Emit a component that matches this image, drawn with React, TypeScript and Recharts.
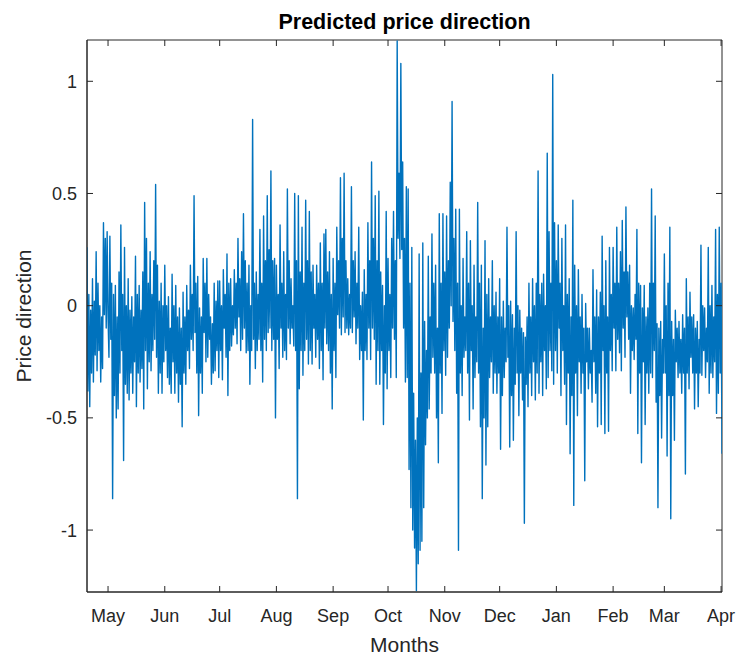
import React from 'react';
import { LineChart, Line, XAxis, YAxis, ReferenceArea } from 'recharts';

// x = days since 1 May (half-day steps inside each month block)
const monthTicks = [0, 31, 61, 92, 123, 153, 184, 214, 245, 276, 304, 335];
const monthLabels = ['May', 'Jun', 'Jul', 'Aug', 'Sep', 'Oct', 'Nov', 'Dec', 'Jan', 'Feb', 'Mar', 'Apr'];
const yTicks = [-1, -0.5, 0, 0.5, 1];
const yTickLabels = ['-1', '-0.5', '0', '0.5', '1'];

const lateApr = [0.26, -0.38, 0.05, -0.45, -0.02, -0.3, 0.12, -0.34, 0.02, -0.22, 0.24, -0.29, 0.1, -0.2, 0.0, -0.34, -0.05, -0.28, 0.37, -0.04, 0.3, -0.1, 0.33];
const may = [-0.05, -0.23, 0.31, -0.15, 0.1, -0.86, 0.05, -0.4, 0.09, -0.5, -0.05, -0.46, 0.15, -0.3, 0.36, -0.2, 0.05, -0.69, 0.26, -0.35, 0.0, -0.39, 0.12, -0.42, -0.02, -0.3, 0.04, -0.39, -0.05, -0.25, 0.22, -0.45, 0.05, -0.3, 0.09, -0.34, -0.02, -0.28, 0.15, -0.46, 0.46, -0.2, 0.3, -0.37, 0.1, -0.25, 0.24, -0.29, 0.05, -0.2, 0.2, -0.15, 0.54, -0.23, 0.18, -0.39, 0.02, -0.3, 0.1, -0.39, 0.0, -0.25];
const jun = [0.18, -0.2, 0.0, -0.32, 0.04, -0.35, -0.1, -0.39, 0.14, -0.25, 0.0, -0.39, 0.09, -0.3, -0.05, -0.43, -0.01, -0.35, -0.1, -0.54, 0.06, -0.3, -0.05, -0.35, 0.09, -0.2, -0.02, -0.28, 0.18, -0.15, 0.05, -0.2, 0.49, -0.12, 0.1, -0.3, 0.13, -0.49, -0.01, -0.3, -0.05, -0.39, 0.21, -0.12, 0.1, -0.25, 0.21, -0.23, 0.05, -0.15, -0.05, -0.35, -0.08, -0.3, 0.1, -0.29, 0.02, -0.2, 0.11, -0.32];
const jul = [0.11, -0.2, 0.0, -0.33, 0.16, -0.1, 0.05, -0.23, 0.23, -0.4, 0.1, -0.2, 0.12, -0.18, 0.0, -0.13, 0.16, -0.1, 0.1, -0.17, 0.3, -0.05, 0.12, -0.2, 0.24, -0.15, 0.41, -0.1, 0.2, -0.21, 0.1, -0.2, 0.18, -0.35, 0.0, -0.2, 0.83, -0.15, 0.1, -0.28, 0.15, -0.2, 0.05, -0.15, 0.34, -0.2, 0.1, -0.34, 0.4, -0.15, 0.2, -0.2, 0.49, -0.12, 0.25, -0.1, 0.6, -0.2, 0.2, -0.15, 0.21, -0.5];
const aug = [0.18, -0.15, 0.05, -0.28, 0.36, -0.1, 0.1, -0.23, 0.24, -0.2, 0.05, -0.24, 0.52, -0.1, 0.2, -0.17, 0.12, -0.1, 0.0, -0.18, 0.5, -0.2, 0.2, -0.86, 0.49, -0.37, 0.15, -0.2, 0.35, -0.31, 0.1, -0.2, 0.47, -0.15, 0.2, -0.26, 0.42, -0.2, 0.15, -0.26, 0.18, -0.1, 0.05, -0.23, 0.18, -0.15, 0.1, -0.28, 0.28, -0.2, 0.1, -0.33, 0.32, -0.1, 0.34, -0.17, 0.15, -0.2, 0.24, -0.3, 0.05, -0.46];
const sep = [0.21, -0.2, 0.1, -0.32, 0.35, -0.04, 0.2, -0.1, 0.57, -0.13, 0.3, -0.05, 0.59, -0.12, 0.2, -0.1, 0.12, -0.13, 0.05, -0.1, 0.53, -0.12, 0.2, -0.05, 0.24, -0.17, 0.1, -0.1, 0.35, -0.24, 0.0, -0.2, 0.06, -0.51, 0.16, -0.2, 0.05, -0.24, 0.37, -0.1, 0.2, -0.24, 0.64, -0.1, 0.3, -0.15, 0.49, -0.35, 0.2, -0.2, 0.51, -0.35, 0.15, -0.2, 0.09, -0.53, 0.0, -0.3, 0.42, -0.37];
const oct = [0.21, -0.2, 0.05, -0.32, 0.3, -0.1, 0.42, -0.15, 0.2, -0.32, 1.18, 0.3, 0.59, 0.21, 1.08, 0.25, 0.64, -0.1, 0.3, -0.34, 0.53, -0.32, 0.52, -0.73, 0.1, -0.9, 0.26, -1.0, -0.39, -1.08, -0.6, -1.27, -0.5, -1.15, 0.23, -1.09, -0.3, -1.05, 0.28, -0.9, -0.07, -0.62, -0.2, -0.5, 0.22, -0.46, -0.05, -0.3, 0.32, -0.23, 0.1, -0.3, 0.18, -0.5, -0.1, -0.7, 0.41, -0.3, 0.1, -0.48, 0.41, -0.2];
const nov = [0.15, -0.31, 0.4, -0.23, 0.2, -0.1, 0.55, 0.0, 0.91, -0.07, 0.3, -0.2, 0.43, -0.39, 0.1, -1.09, 0.43, -0.3, 0.0, -0.4, 0.21, -0.23, -0.05, -0.2, 0.33, -0.3, 0.1, -0.51, 0.29, -0.2, 0.0, -0.46, 0.18, -0.32, -0.05, -0.25, 0.46, -0.3, 0.1, -0.54, 0.18, -0.86, -0.1, -0.5, 0.29, -0.71, 0.05, -0.54, 0.12, -0.32, -0.05, -0.25, 0.2, -0.39, 0.0, -0.3, 0.06, -0.39, -0.05, -0.3];
const dec = [0.12, -0.64, -0.05, -0.4, 0.02, -0.32, -0.1, -0.25, 0.35, -0.23, 0.0, -0.63, 0.02, -0.4, -0.04, -0.6, -0.1, -0.35, 0.33, -0.3, 0.0, -0.49, -0.02, -0.3, -0.1, -0.42, -0.12, -0.97, -0.14, -0.35, -0.05, -0.45, 0.1, -0.3, -0.05, -0.4, 0.12, -0.25, 0.0, -0.42, 0.1, -0.3, 0.6, -0.39, 0.05, -0.25, 0.1, -0.4, 0.14, -0.2, 0.0, -0.37, 0.68, -0.32, 0.33, -0.2, 0.1, -0.29, 1.03, -0.35, 0.37, -0.2];
const jan = [0.2, -0.3, 0.36, -0.1, 0.1, -0.4, 0.3, -0.2, 0.0, -0.35, 0.36, -0.53, 0.05, -0.3, 0.12, -0.66, -0.05, -0.4, 0.47, -0.89, 0.18, -0.3, 0.0, -0.49, 0.16, -0.25, -0.05, -0.39, 0.05, -0.3, -0.1, -0.78, 0.01, -0.25, -0.1, -0.37, -0.1, -0.3, -0.2, -0.43, 0.16, -0.25, -0.05, -0.39, 0.07, -0.54, -0.05, -0.3, 0.06, -0.53, 0.31, -0.2, 0.0, -0.57, 0.2, -0.3, -0.05, -0.56, 0.26, -0.2, 0.05, -0.29];
const feb = [0.26, -0.1, 0.1, -0.29, 0.35, -0.15, 0.1, -0.21, 0.24, -0.29, 0.38, -0.1, 0.15, -0.23, 0.44, -0.05, 0.15, -0.15, 0.18, -0.39, 0.0, -0.2, -0.01, -0.24, 0.05, -0.15, 0.34, -0.57, 0.1, -0.3, 0.09, -0.7, -0.01, -0.25, 0.09, -0.53, -0.05, -0.3, -0.01, -0.39, 0.1, -0.3, 0.52, -0.32, 0.1, -0.2, 0.4, -0.43, -0.08, -0.9, -0.1, -0.4, -0.07, -0.59, -0.15, -0.3];
const mar = [0.23, -0.3, 0.0, -0.67, 0.1, -0.4, 0.35, -0.95, -0.07, -0.4, -0.15, -0.6, -0.02, -0.25, -0.1, -0.32, -0.07, -0.3, -0.15, -0.39, -0.04, -0.3, -0.1, -0.75, 0.12, -0.3, -0.05, -0.37, 0.06, -0.23, -0.05, -0.3, -0.04, -0.46, -0.1, -0.3, -0.07, -0.45, -0.15, -0.3, 0.27, -0.31, 0.0, -0.2, -0.01, -0.32, -0.1, -0.25, 0.26, -0.39, 0.0, -0.3, 0.09, -0.32, -0.05, -0.25, 0.34, -0.48, 0.05, -0.39, 0.35, -0.3];
const earlyApr = [0.1, -0.66];

const segments = [
  { start: -11.5, vals: lateApr },
  { start: 0, vals: may },
  { start: 31, vals: jun },
  { start: 61, vals: jul },
  { start: 92, vals: aug },
  { start: 123, vals: sep },
  { start: 153, vals: oct },
  { start: 184, vals: nov },
  { start: 214, vals: dec },
  { start: 245, vals: jan },
  { start: 276, vals: feb },
  { start: 304, vals: mar },
  { start: 335, vals: earlyApr },
];

const data = segments.flatMap((s) => s.vals.map((v, i) => ({ day: s.start + i * 0.5, value: v })));

const X_DOMAIN: [number, number] = [-11.5, 335.5];
const Y_DOMAIN: [number, number] = [-1.276, 1.184];

const FONT = '"Liberation Sans", Arial, Helvetica, sans-serif';
const AXIS = '#262626';
const TICK_LEN = 6;
const W = 741;
const H = 657;
const MARGIN = { top: 40, right: 19, bottom: 35, left: 27 };
const X_AXIS_H = 30;
const Y_AXIS_W = 60;
const PLOT_W = W - MARGIN.left - MARGIN.right - Y_AXIS_W;
const PLOT_H = H - MARGIN.top - MARGIN.bottom - X_AXIS_H;

const BottomTick = (p: any) => (
  <g>
    <line x1={p.x} y1={p.y} x2={p.x} y2={p.y - TICK_LEN} stroke={AXIS} strokeWidth={1} />
    <line x1={p.x} y1={p.y - PLOT_H} x2={p.x} y2={p.y - PLOT_H + TICK_LEN} stroke={AXIS} strokeWidth={1} />
    <text x={p.x} y={p.y + 29.5} textAnchor="middle" fontSize={18} fontFamily={FONT} fill={AXIS}>
      {monthLabels[monthTicks.indexOf(p.payload.value)]}
    </text>
  </g>
);
const LeftTick = (p: any) => (
  <g>
    <line x1={p.x} y1={p.y} x2={p.x + TICK_LEN} y2={p.y} stroke={AXIS} strokeWidth={1} />
    <line x1={p.x + PLOT_W} y1={p.y} x2={p.x + PLOT_W - TICK_LEN} y2={p.y} stroke={AXIS} strokeWidth={1} />
    <text x={p.x - 10} y={p.y + 6.5} textAnchor="end" fontSize={18} fontFamily={FONT} fill={AXIS}>
      {yTickLabels[yTicks.indexOf(p.payload.value)]}
    </text>
  </g>
);

export default function App() {
  return (
    <div style={{ position: 'relative', width: W, height: H }}>
      <style>{'body{margin:0}'}</style>
      <LineChart width={W} height={H} data={data} margin={MARGIN} style={{ overflow: 'visible' }}>
        <XAxis
          dataKey="day"
          type="number"
          domain={X_DOMAIN}
          ticks={monthTicks}
          interval={0}
          tickSize={0}
          tickMargin={0}
          tickLine={false}
          axisLine={{ stroke: AXIS }}
          tick={BottomTick}
          height={X_AXIS_H}
          allowDataOverflow
        />
        <YAxis
          type="number"
          domain={Y_DOMAIN}
          ticks={yTicks}
          interval={0}
          tickSize={0}
          tickMargin={0}
          tickLine={false}
          axisLine={{ stroke: AXIS }}
          tick={LeftTick}
          width={Y_AXIS_W}
          allowDataOverflow
        />
        <Line
          dataKey="value"
          type="linear"
          stroke="#0072BD"
          strokeWidth={1.4}
          strokeLinejoin="round"
          dot={false}
          activeDot={false}
          isAnimationActive={false}
        />
        <ReferenceArea
          x1={X_DOMAIN[0]}
          x2={X_DOMAIN[1]}
          y1={Y_DOMAIN[0]}
          y2={Y_DOMAIN[1]}
          fill="none"
          fillOpacity={0}
          stroke={AXIS}
          strokeWidth={1}
          ifOverflow="visible"
        />
      </LineChart>
      <svg width={W} height={H} style={{ position: 'absolute', left: 0, top: 0, pointerEvents: 'none' }}>
        <text x={404.5} y={29} textAnchor="middle" fontSize={21.5} fontWeight="bold" fontFamily={FONT} fill="#000">
          Predicted price direction
        </text>
        <text x={404.5} y={652} textAnchor="middle" fontSize={21} fontFamily={FONT} fill={AXIS}>
          Months
        </text>
        <text
          x={0}
          y={0}
          transform={`translate(31, 316) rotate(-90)`}
          textAnchor="middle"
          fontSize={21}
          fontFamily={FONT}
          fill={AXIS}
        >
          Price direction
        </text>
      </svg>
    </div>
  );
}
